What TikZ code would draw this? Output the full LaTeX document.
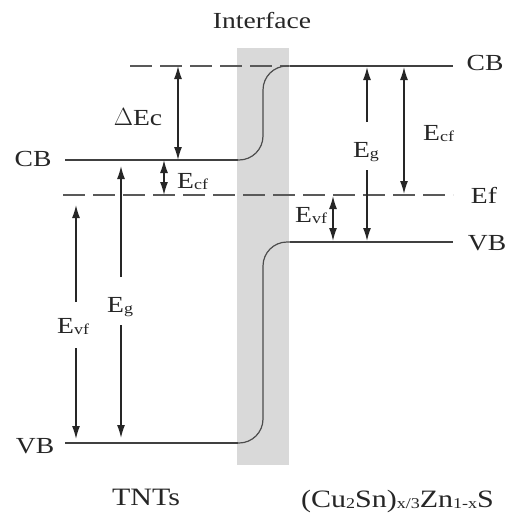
\documentclass[tikz,border=0pt]{standalone}
\usepackage{fontspec}
\setmainfont{Liberation Serif}[FakeStretch=1.2]
\usetikzlibrary{arrows.meta}
\newcommand\sbx[1]{\raisebox{-1pt}{\fontsize{15}{15}\selectfont #1}}
\begin{document}
\begin{tikzpicture}[x=1pt,y=-1pt,
  lbl/.style={inner sep=0pt,text=black!85,font=\fontsize{23}{26}\selectfont},
  level/.style={line width=2.2pt,draw=black!75},
  stepcurve/.style={line width=1.2pt,draw=black!70,rounded corners=24pt},
  dashline/.style={line width=2.2pt,draw=black!65,dash pattern=on 22pt off 8pt},
  arr/.style={line width=1.4pt,draw=black!85,-{Latex[length=13pt,width=8pt]}},
  darr/.style={line width=1.4pt,draw=black!85,{Latex[length=13pt,width=8pt]}-{Latex[length=13pt,width=8pt]}}]
\useasboundingbox (0,0) rectangle (509,522);
% interface band
\fill[black!15] (237,48) rectangle (289,465);
\node[lbl,anchor=base] (iface) at (262,28) {Interface};
% coordinates
\coordinate (cbL0) at (65,160);
\coordinate (cbL1) at (238,160);
\coordinate (cbR0) at (290,66);
\coordinate (cbR1) at (453,66);
\coordinate (vbL0) at (65,443);
\coordinate (vbL1) at (238,443);
\coordinate (vbR0) at (290,242);
\coordinate (vbR1) at (453,242);
\coordinate (dT0) at (130,66);
\coordinate (dT1) at (289,66);
\coordinate (ef0) at (63,195);
\coordinate (ef1) at (453,195);
% level lines
\draw[dashline] (dT0) -- (dT1);
\draw[dashline] (ef0) -- (ef1);
\draw[level] (cbL0) -- (cbL1);
\draw[level] (cbR0) -- (cbR1);
\draw[level] (vbL0) -- (vbL1);
\draw[level] (vbR0) -- (vbR1);
\draw[stepcurve] (cbL1) -- (263,160) -- (263,66) -- (cbR0);
\draw[stepcurve] (vbL1) -- (263,443) -- (263,242) -- (vbR0);
% labels
\node[lbl,anchor=base] (cbl) at (33,166) {CB};
\node[lbl,anchor=base] (vbl) at (35,453) {VB};
\node[lbl,anchor=base] (cbr) at (485,70) {CB};
\node[lbl,anchor=base] (efr) at (484,203) {Ef};
\node[lbl,anchor=base] (vbr) at (487,250) {VB};
\node[lbl,anchor=base] (dec) at (138,125) {$\Delta$Ec};
\node[lbl,anchor=base west] (ecfL) at (177,188) {E\sbx{cf}};
\node[lbl,anchor=base west] (ecfR) at (423,140) {E\sbx{cf}};
\node[lbl,anchor=base] (egR) at (366,157) {E\sbx{g}};
\node[lbl,anchor=base west] (evfR) at (295,222) {E\sbx{vf}};
\node[lbl,anchor=base west] (evfL) at (57,333) {E\sbx{vf}};
\node[lbl,anchor=base west] (egL) at (107,312) {E\sbx{g}};
\node[lbl,anchor=base,font=\fontsize{25}{28}\selectfont] (tnts) at (146,505) {TNTs};
\node[lbl,anchor=base west,font=\fontsize{25}{28}\selectfont] (czts) at (301,507) {(Cu\sbx{2}Sn)\sbx{x/3}Zn\sbx{1-x}S};
% arrows
\coordinate (a1t) at (178,66); \coordinate (a1b) at (178,160);
\draw[darr] (a1t) -- (a1b);
\coordinate (a2t) at (164,160); \coordinate (a2b) at (164,195);
\draw[darr] (a2t) -- (a2b);
\coordinate (a3t) at (76,205); \coordinate (a3m1) at (76,302);
\coordinate (a3m2) at (76,348); \coordinate (a3b) at (76,439);
\draw[arr] (a3m1) -- (a3t);
\draw[arr] (a3m2) -- (a3b);
\coordinate (a4t) at (121,166); \coordinate (a4m1) at (121,277);
\coordinate (a4m2) at (121,325); \coordinate (a4b) at (121,438);
\draw[arr] (a4m1) -- (a4t);
\draw[arr] (a4m2) -- (a4b);
\coordinate (a5t) at (367,67); \coordinate (a5m1) at (367,122);
\coordinate (a5m2) at (367,170); \coordinate (a5b) at (367,241);
\draw[arr] (a5m1) -- (a5t);
\draw[arr] (a5m2) -- (a5b);
\coordinate (a6t) at (404,67); \coordinate (a6b) at (404,194);
\draw[darr] (a6t) -- (a6b);
\coordinate (a7t) at (333,196); \coordinate (a7b) at (333,241);
\draw[darr] (a7t) -- (a7b);
\end{tikzpicture}
\end{document}
